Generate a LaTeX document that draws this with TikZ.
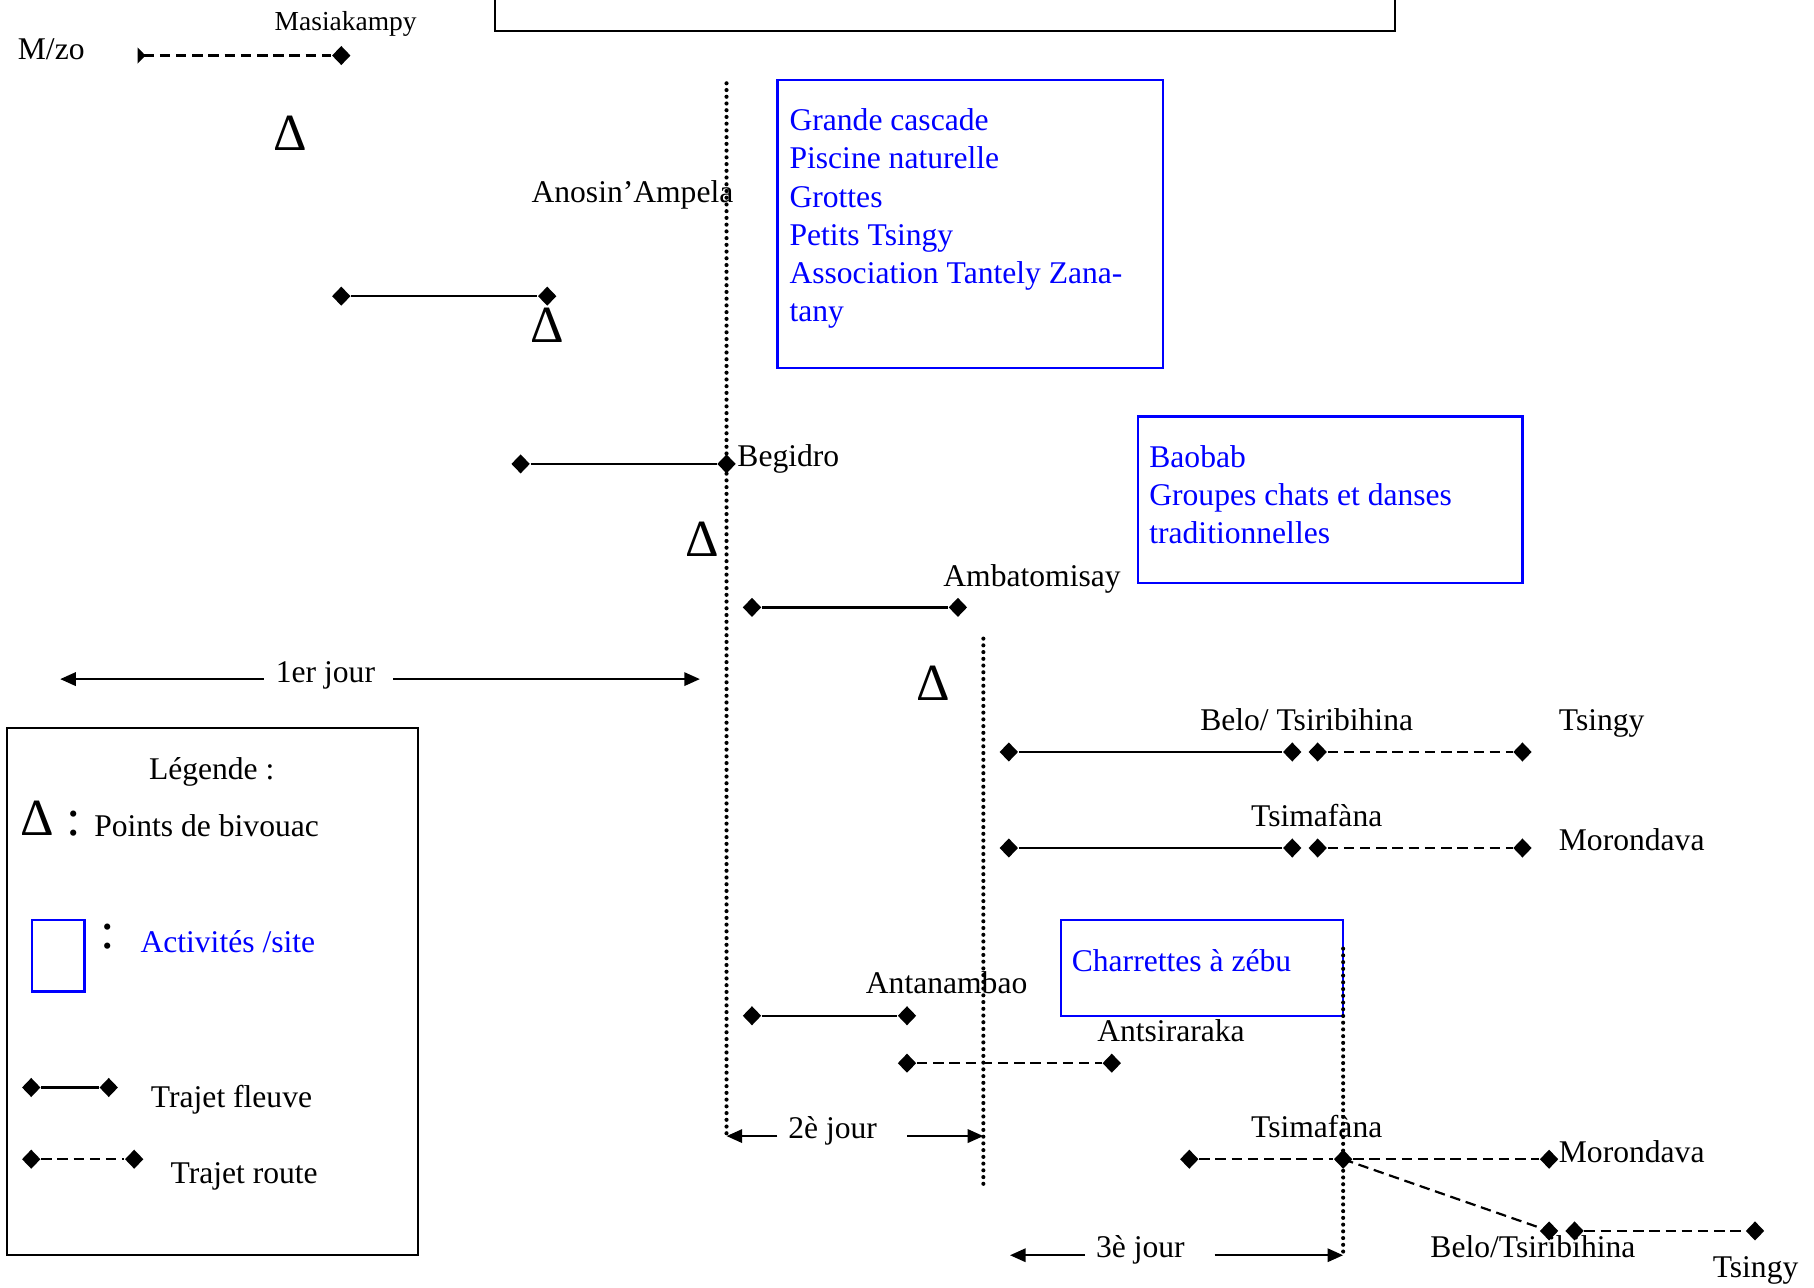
\documentclass[tikz,border=0pt]{standalone}
\usepackage{fontspec}
\setmainfont{Liberation Serif}
\usepackage{tikz}
\usetikzlibrary{arrows.meta}
\usetikzlibrary{shapes.geometric}

\tikzset{
  etape/.style={diamond, fill=black, inner sep=0pt, minimum width=0.24cm, minimum height=0.25cm},
  fleuve/.style={line width=0.9pt},
  route/.style={line width=0.8pt, dash pattern=on 3.8pt off 2.1pt},
  jour/.style={line width=1.5pt, line cap=round, dash pattern=on 0pt off 2.45pt},
  site/.style={draw=blue, line width=0.8pt},
  lieu/.style={anchor=base west, inner sep=0pt, yshift=-0.03cm, font=\fontsize{11.5}{14}\selectfont},
  bivouac/.style={inner sep=0pt, font=\fontsize{19}{22}\selectfont},
  fleche/.style={line width=0.9pt, -{Triangle[length=0.2cm, width=0.17cm]}},
}

\begin{document}
\begin{tikzpicture}[x=0.0148cm, y=-0.0148cm]
\useasboundingbox (0,0) rectangle (1568,1113.3);

% cadre du haut
\draw[line width=0.8pt] (428,-20) rectangle (1206,27);

% sites
\draw[site] (672,69) rectangle (1005,318);
\foreach \ligne [count=\i] in {Grande cascade, Piscine naturelle, Grottes, Petits Tsingy, Association Tantely Zana-, tany} {
 \node[lieu, text=blue] (siteA-\i) at (682,{78+33*\i}) {\ligne};
}
\draw[site] (984,360) rectangle (1316,504);
\foreach \ligne [count=\i] in {Baobab, Groupes chats et danses, traditionnelles} {
 \node[lieu, text=blue] (siteB-\i) at (993,{369+33*\i}) {\ligne};
}
\draw[site] (917,795) rectangle (1161,878);
\node[lieu, text=blue] (siteC) at (926,838) {Charrettes à zébu};

% jours
\coordinate (j1top) at (628,72);
\coordinate (j1bot) at (628,982);
\coordinate (j2top) at (850,552);
\coordinate (j2bot) at (850,1024);
\coordinate (j3top) at (1161,820);
\coordinate (j3bot) at (1161,1085);
\draw[jour] (j1top) -- (j1bot);
\draw[jour] (j2top) -- (j2bot);
\draw[jour] (j3top) -- (j3bot);

% points de bivouac
\foreach \point [count=\i] in {(251,115),(473,281),(607,466),(807,591)} {
 \node[bivouac] (biv-\i) at \point {Δ};
}

% etapes
\node[etape] (masia) at (295,48) {};
\node[etape] (anoA) at (295,256) {};
\node[etape] (anoB) at (473,256) {};
\node[etape] (begA) at (450,401) {};
\node[etape] (begB) at (628,401) {};
\node[etape] (ambA) at (650,525) {};
\node[etape] (ambB) at (828,525) {};
\node[etape] (beloA) at (872,650) {};
\node[etape] (beloB) at (1117,650) {};
\node[etape] (beloC) at (1139,650) {};
\node[etape] (beloD) at (1316,650) {};
\node[etape] (tsimA) at (872,733) {};
\node[etape] (tsimB) at (1117,733) {};
\node[etape] (tsimC) at (1139,733) {};
\node[etape] (tsimD) at (1316,733) {};
\node[etape] (antA) at (650,878) {};
\node[etape] (antB) at (784,878) {};
\node[etape] (antsA) at (784,919) {};
\node[etape] (antsB) at (961,919) {};
\node[etape] (routeA) at (1028,1002) {};
\node[etape] (routeB) at (1161,1002) {};
\node[etape] (routeC) at (1339,1002) {};
\node[etape] (routeD) at (1339,1064) {};
\node[etape] (routeE) at (1361,1064) {};
\node[etape] (routeF) at (1517,1064) {};
\coordinate (mzo) at (119,48);

\draw[route, {Triangle[reversed, length=0.1cm, width=0.2cm]}-] (mzo) -- (masia);
\draw[fleuve] (anoA) -- (anoB);
\draw[fleuve] (begA) -- (begB);
\draw[fleuve] (ambA) -- (ambB);
\draw[fleuve] (beloA) -- (beloB);
\draw[route] (beloC) -- (beloD);
\draw[fleuve] (tsimA) -- (tsimB);
\draw[route] (tsimC) -- (tsimD);
\draw[fleuve] (antA) -- (antB);
\draw[route] (antsA) -- (antsB);
\draw[route] (routeA) -- (routeB) -- (routeC);
\draw[route] (routeB.center) -- (routeD);
\draw[route] (routeE) -- (routeF);

% noms des lieux
\node[lieu, font=\fontsize{10}{12}\selectfont] (masiaT) at (237,24) {Masiakampy};
\node[lieu] (mzoT) at (15,49) {M/zo};
\node[lieu] (anoT) at (459,173) {Anosin’Ampela};
\node[lieu] (begT) at (637,401) {Begidro};
\node[lieu] (ambT) at (815,505) {Ambatomisay};
\node[lieu] (beloT) at (1037,629) {Belo/ Tsiribihina};
\node[lieu] (tsingyT) at (1347,629) {Tsingy};
\node[lieu] (tsimT) at (1081,712) {Tsimafàna};
\node[lieu] (moroT) at (1347,733) {Morondava};
\node[lieu] (antT) at (748,857) {Antanambao};
\node[lieu] (antsT) at (948,898) {Antsiraraka};
\node[lieu] (tsimT2) at (1081,981) {Tsimafàna};
\node[lieu] (moroT2) at (1347,1003) {Morondava};
\node[lieu] (beloT2) at (1236,1085) {Belo/Tsiribihina};
\node[lieu] (tsingyT2) at (1480,1102) {Tsingy};

% durees
\node[lieu] (jour1) at (238,588) {1er jour};
\node[lieu] (jour2) at (681,982) {2è jour};
\node[lieu] (jour3) at (947,1085) {3è jour};
\coordinate (f1a) at (228,587);
\coordinate (f1b) at (52,587);
\coordinate (f1c) at (340,587);
\coordinate (f1d) at (605,587);
\coordinate (f2a) at (672,982);
\coordinate (f2c) at (784,982);
\coordinate (f2d) at (850,982);
\coordinate (f3a) at (938,1085);
\coordinate (f3b) at (873,1085);
\coordinate (f3c) at (1050,1085);
\draw[fleche] (f1a) -- (f1b);
\draw[fleche] (f1c) -- (f1d);
\draw[fleche] (f2a) -- (j1bot);
\draw[fleche] (f2c) -- (f2d);
\draw[fleche] (f3a) -- (f3b);
\draw[fleche] (f3c) -- (j3bot);

% legende
\draw[line width=0.8pt] (6,629) rectangle (361,1085);
\node[lieu, anchor=base] (legT) at (183,672) {Légende :};
\node[bivouac, anchor=base west] (legBiv) at (17,722) {Δ :};
\node[lieu] (legBivT) at (81,721) {Points de bivouac};
\draw[site] (28,795) rectangle (73,857);
\node[bivouac, anchor=base west] (legSite) at (86,820) {:};
\node[lieu, text=blue] (legSiteT) at (121,821) {Activités /site};
\node[etape] (legFa) at (27,940) {};
\node[etape] (legFb) at (94,940) {};
\draw[fleuve] (legFa) -- (legFb);
\node[lieu] (legFT) at (130,955) {Trajet fleuve};
\node[etape] (legRa) at (27,1002) {};
\node[etape] (legRb) at (116,1002) {};
\draw[route] (legRa) -- (legRb);
\node[lieu] (legRT) at (147,1021) {Trajet route};

\end{tikzpicture}
\end{document}
